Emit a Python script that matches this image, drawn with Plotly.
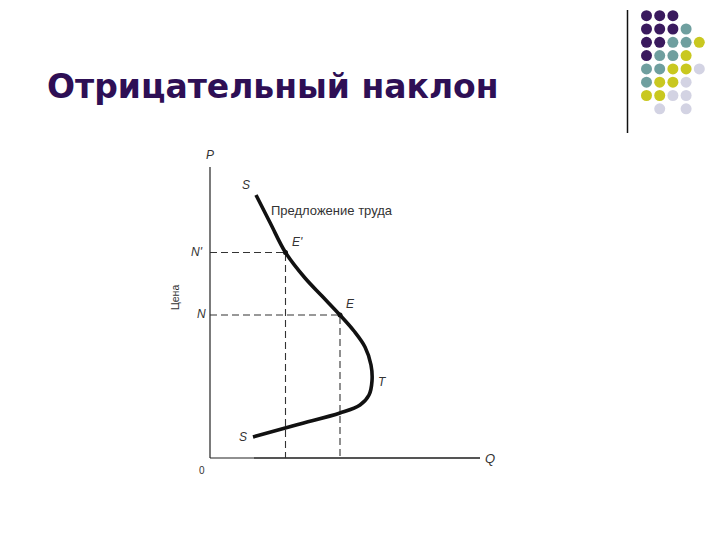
import plotly.graph_objects as go

# ---- data ----
# Supply-of-labour curve (Q = quantity, P = price)
curve_q = [46, 60.5, 75.5, 95, 112, 130, 144, 155, 161, 162, 159, 150, 130, 87, 43]
curve_p = [263, 234.5, 205.5, 180, 162, 143, 127, 111, 93, 77, 63, 53, 45, 33.3, 21]

# Equilibrium points E' and E
eq_names = ["E'", "E"]
eq_q = [75.5, 130]
eq_p = [205.5, 143]
price_names = ["N'", "N"]

# Decorative dot grid (colour keys by row)
dot_rows = [
    ["P", "P", "P", None, None],
    ["P", "P", "P", "G", None],
    ["P", "P", "G", "G", "Y"],
    ["P", "G", "G", "Y", None],
    ["G", "G", "Y", "Y", "L"],
    ["G", "Y", "Y", "L", None],
    ["Y", "Y", "L", "L", None],
    [None, "L", None, "L", None],
]
dot_colors = {"P": "#3a1a5e", "G": "#6f9f9f", "Y": "#c9c820", "L": "#d3d3e3"}

title_text = "Отрицательный наклон"
curve_label = "Предложение труда"
axis_p, axis_q, axis_price = "P", "Q", "Цена"

# ---- helpers: page pixel -> data (origin at page pixel 210,458) ----
OX, OY = 210, 458
BODY = 8  # default page margin of the html body
def px(x, y):
    return x - OX, OY - y

fig = go.Figure()

# axes
fig.add_trace(go.Scatter(x=[0, 0], y=[0, 291], mode="lines",
                         line=dict(color="#222", width=1.2), hoverinfo="skip"))
fig.add_trace(go.Scatter(x=[0, 45], y=[0, 0], mode="lines",
                         line=dict(color="#222", width=1.2), hoverinfo="skip"))
fig.add_trace(go.Scatter(x=[44, 270], y=[0, 0], mode="lines",
                         line=dict(color="#555", width=2.2), hoverinfo="skip"))

# dashed guides
for q, p in zip(eq_q, eq_p):
    fig.add_trace(go.Scatter(x=[0, q, q], y=[p, p, 0], mode="lines",
                             line=dict(color="#333", width=1.1, dash="7px,4px"),
                             hoverinfo="skip"))

# curve
fig.add_trace(go.Scatter(x=curve_q, y=curve_p, mode="lines",
                         line=dict(color="#111", width=3.6, shape="spline", smoothing=1.0),
                         hoverinfo="skip"))

# equilibrium markers
fig.add_trace(go.Scatter(x=eq_q, y=eq_p, mode="markers",
                         marker=dict(color="#111", size=5), hoverinfo="skip"))

# dot grid
dx, dy, dc = [], [], []
for r, row in enumerate(dot_rows):
    for c, key in enumerate(row):
        if key:
            x, y = px(646.5 + 13.2 * c, 15.7 + 13.3 * r)
            dx.append(x); dy.append(y); dc.append(dot_colors[key])
fig.add_trace(go.Scatter(x=dx, y=dy, mode="markers",
                         marker=dict(color=dc, size=11, line=dict(width=0)),
                         hoverinfo="skip"))
# vertical separator
x1, y1 = px(627.5, 10)
x2, y2 = px(627.5, 133)
fig.add_trace(go.Scatter(x=[x1, x2], y=[y1, y2], mode="lines",
                         line=dict(color="#111", width=1.5), hoverinfo="skip"))

lab_font = dict(family="Liberation Sans, Arial", size=12, color="#333")
def lab(x, y, text, size=12, anchor="center", angle=0):
    fig.add_annotation(x=x, y=y, xref="x", yref="y", text=text, showarrow=False,
                       xanchor=anchor, yanchor="middle", textangle=angle,
                       font=dict(lab_font, size=size))

lab(0, 303, "<i>" + axis_p + "</i>")
lab(280, 0, "<i>" + axis_q + "</i>", size=13)
lab(-8.3, -12, "0", size=10)
lab(-35, 160, axis_price, size=10.5, angle=-90)
lab(36, 273, "<i>S</i>")
lab(59, 247.5, curve_label, size=13, anchor="left")
lab(eq_q[0] + 12, eq_p[0] + 11, "<i>" + eq_names[0] + "</i>")
lab(eq_q[1] + 10, eq_p[1] + 11, "<i>" + eq_names[1] + "</i>")
lab(172, 76, "<i>T</i>")
lab(32.7, 21.3, "<i>S</i>")
lab(-13, eq_p[0] + 1, "<i>" + price_names[0] + "</i>")
lab(-8.3, eq_p[1] + 1, "<i>" + price_names[1] + "</i>")

# title
tx, ty = px(45, 86)
fig.add_annotation(x=tx, y=ty, xref="x", yref="y", text="<b>" + title_text + "</b>",
                   showarrow=False, xanchor="left", yanchor="middle",
                   font=dict(family="DejaVu Sans", size=33, color="#2e0f55"))

fig.update_layout(
    width=720, height=540, margin=dict(l=0, r=0, t=0, b=0),
    paper_bgcolor="white", plot_bgcolor="white", showlegend=False,
    xaxis=dict(range=[-OX + BODY, 720 - OX + BODY], visible=False, fixedrange=True),
    yaxis=dict(range=[OY - BODY - 540, OY - BODY], visible=False, fixedrange=True),
)

fig.write_html("out.html")
